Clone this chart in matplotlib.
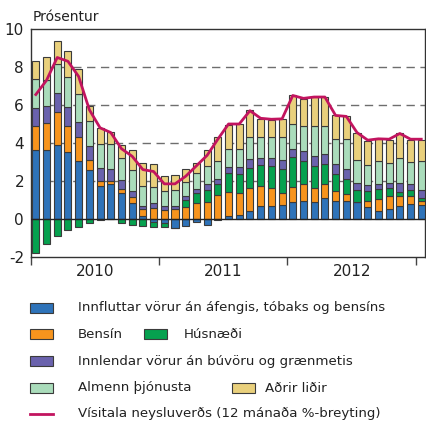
import numpy as np
import matplotlib
matplotlib.use("Agg")
import matplotlib.pyplot as plt
from matplotlib.patches import Rectangle
from matplotlib.lines import Line2D

##############################
# monthly data, Jan 2010 - Jan 2013 (percentage points)
years = ["2010", "2011", "2012"]

innflutt = [3.65, 3.65, 3.91, 3.51, 3.04, 2.57, 1.72, 1.83, 1.35, 0.83, 0.17, -0.14,
            -0.20, -0.47, -0.38, -0.17, -0.30, -0.05, 0.14, 0.21, 0.40, 0.70, 0.70, 0.73,
            0.90, 0.96, 0.87, 1.09, 0.97, 0.97, 0.87, 0.61, 0.43, 0.52, 0.70, 0.78, 0.72]
bensin = [1.25, 1.39, 1.74, 1.36, 1.26, 0.55, 0.28, 0.17, 0.25, 0.35, 0.35, 0.57,
          0.47, 0.52, 0.64, 0.82, 0.87, 1.25, 1.30, 1.14, 1.21, 1.04, 0.92, 0.64,
          0.79, 0.90, 0.78, 0.74, 0.48, 0.33, 0.05, 0.35, 0.61, 0.70, 0.50, 0.44, 0.25]
husnaedi = [-1.77, -1.30, -0.87, -0.56, -0.43, -0.22, -0.03, -0.02, -0.19, -0.33, -0.35, -0.29,
            -0.23, -0.02, 0.36, 0.57, 0.64, 0.61, 0.99, 1.02, 1.09, 1.11, 1.16, 1.28,
            1.56, 1.18, 1.13, 1.04, 0.93, 0.82, 0.61, 0.52, 0.56, 0.40, 0.23, 0.29, 0.13]
innlend = [0.93, 0.91, 0.99, 1.01, 0.78, 0.73, 0.70, 0.63, 0.47, 0.32, 0.14, 0.25,
           0.23, 0.18, 0.22, 0.21, 0.32, 0.26, 0.33, 0.36, 0.45, 0.37, 0.44, 0.48,
           0.42, 0.53, 0.52, 0.57, 0.49, 0.51, 0.38, 0.31, 0.26, 0.29, 0.48, 0.35, 0.45]
thjonusta = [1.56, 1.39, 1.53, 1.60, 1.48, 1.30, 1.25, 1.30, 1.15, 1.06, 1.08, 0.88,
             0.78, 0.83, 0.73, 0.83, 0.95, 0.92, 0.94, 0.95, 1.16, 1.09, 1.11, 1.17,
             1.32, 1.30, 1.62, 1.48, 1.35, 1.59, 1.22, 1.03, 1.18, 1.05, 1.31, 1.13, 1.49]
adrir = [0.92, 1.18, 1.18, 1.35, 1.32, 0.78, 0.85, 0.63, 0.69, 1.06, 1.22, 1.22,
         0.78, 0.78, 0.69, 0.53, 0.87, 1.26, 1.25, 1.33, 1.42, 0.97, 0.90, 0.96,
         1.53, 1.46, 1.51, 1.51, 1.26, 1.21, 1.41, 1.30, 1.16, 1.21, 1.30, 1.18, 1.13]
visitala = [6.55, 7.30, 8.50, 8.30, 7.50, 5.75, 4.80, 4.55, 3.70, 3.30, 2.60, 2.50,
            1.85, 1.85, 2.25, 2.80, 3.35, 4.20, 5.00, 5.00, 5.70, 5.30, 5.25, 5.27,
            6.50, 6.35, 6.42, 6.42, 5.45, 5.40, 4.55, 4.15, 4.22, 4.20, 4.50, 4.20, 4.20]

labels = ["Innfluttar vörur án áfengis, tóbaks og bensíns", "Bensín", "Húsnæði",
          "Innlendar vörur án búvöru og grænmetis", "Almenn þjónusta", "Aðrir liðir",
          "Vísitala neysluverðs (12 mánaða %-breyting)"]
colors = ["#2e73b9", "#f7941d", "#06a14f", "#6a62ad", "#aadcbb", "#e9d07c"]
line_color = "#c2145f"
edge = "#3b3b3b"
##############################
fig = plt.figure(figsize=(4.27, 4.21), dpi=100)
ax = fig.add_axes([31/427, 1 - 257/421, 394/427, 228/421])

series = [innflutt, bensin, husnaedi, innlend, thjonusta, adrir]
x = np.arange(len(visitala))
pos = np.zeros(len(x))
neg = np.zeros(len(x))
for vals, c in zip(series, colors):
    v = np.array(vals)
    bottom = np.where(v >= 0, pos, neg)
    ax.bar(x, v, width=0.66, bottom=bottom, color=c, edgecolor=edge, linewidth=0.8, zorder=3)
    pos = pos + np.where(v >= 0, v, 0)
    neg = neg + np.where(v < 0, v, 0)

ax.plot(x, visitala, color=line_color, lw=2.0, zorder=4)

ax.set_ylim(-2, 10)
ax.set_xlim(-0.45, 36.35)
ax.set_yticks(range(-2, 11, 2))
ax.set_yticklabels([str(t) for t in range(-2, 11, 2)], fontsize=11, color="#222222")
ax.tick_params(axis="y", length=0, pad=5)
for g in [2, 4, 6, 8]:
    ax.axhline(g, color="#6e6e6e", lw=1.0, ls=(0, (6, 4)), zorder=1)
ax.axhline(0, color="#222222", lw=1.0, zorder=3.5)

ax.set_xticks([-0.45, 11.5, 23.5, 35.5])
ax.set_xticklabels([])
ax.tick_params(axis="x", length=6, width=1.0, color="#444444", direction="out")
for i, yr in enumerate(years):
    ax.text(5.5 + 12*i, -2.35, yr, ha="center", va="top", fontsize=11, color="#222222")

for s in ax.spines.values():
    s.set_color("#333333")
    s.set_linewidth(1.0)

fig.text(33/427, 1 - 17/421, "Prósentur", fontsize=10, color="#222222", va="center", ha="left")

# legend below the chart
def patch(px, py, c):
    fig.add_artist(Rectangle((px/427, 1 - (py + 5)/421), 23/427, 10/421,
                             facecolor=c, edgecolor=edge, lw=0.8, transform=fig.transFigure))

def label(px, py, s):
    fig.text(px/427, 1 - py/421, s, fontsize=9.6, color="#222222", va="center", ha="left")

rows = [308, 334, 361, 388, 414]
patch(30, rows[0], colors[0]); label(78, rows[0], labels[0])
patch(30, rows[1], colors[1]); label(78, rows[1], labels[1])
patch(144, rows[1], colors[2]); label(184, rows[1], labels[2])
patch(30, rows[2], colors[3]); label(78, rows[2], labels[3])
patch(30, rows[3], colors[4]); label(78, rows[3], labels[4])
patch(232, rows[3], colors[5]); label(265, rows[3], labels[5])
fig.add_artist(Line2D([30/427, 53/427], [1 - rows[4]/421]*2, color=line_color, lw=2.0))
label(78, rows[4], labels[6])

plt.savefig("out.png", dpi=100)
